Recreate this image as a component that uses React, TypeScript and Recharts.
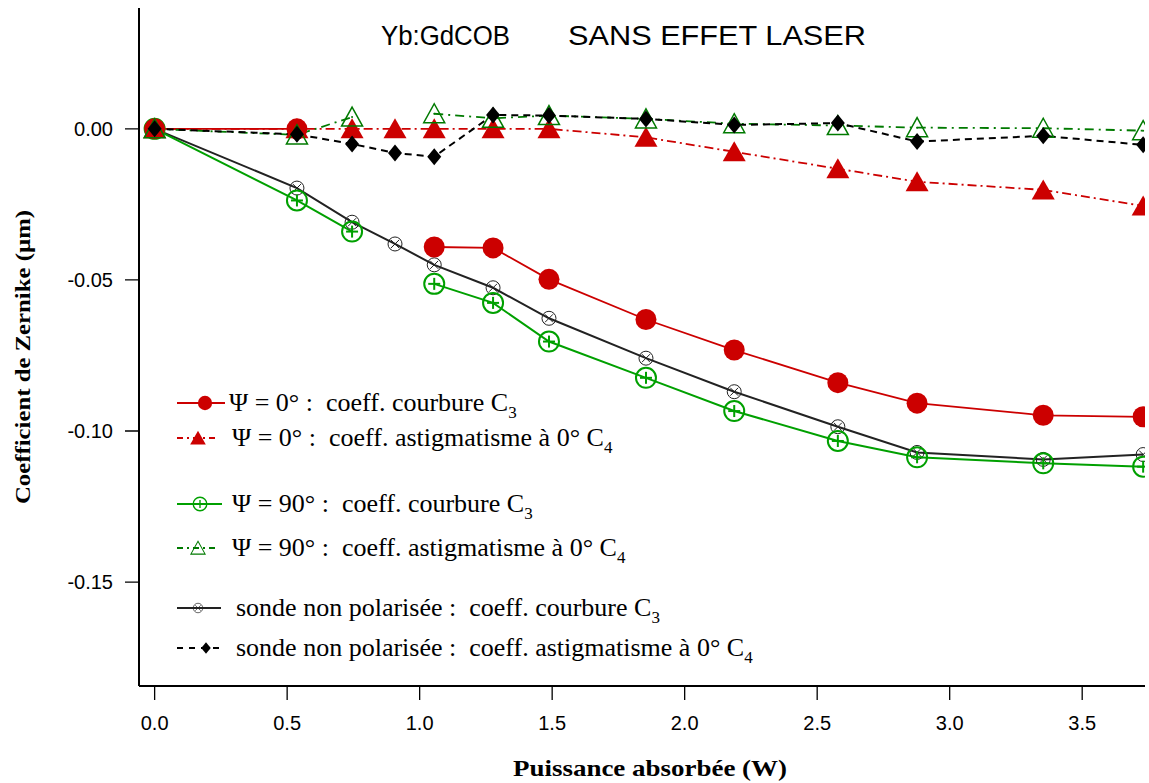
import React from 'react';
import { LineChart, Line, XAxis, YAxis } from 'recharts';

// ---------- data ----------
const powerW = [0, 0.537, 0.745, 0.907, 1.055, 1.277, 1.488, 1.854, 2.187, 2.578, 2.877, 3.353, 3.73];
const psi0Courbure = [0, 0, null, null, -0.0391, -0.0394, -0.0498, -0.0631, -0.0732, -0.084, -0.0908, -0.0948, -0.0953];
const psi0Astig = [0, 0, 0, 0, 0, 0, 0, -0.0028, -0.0076, -0.0132, -0.0175, -0.0202, -0.0255];
const psi90Courbure = [0, -0.0237, -0.034, null, -0.0513, -0.0576, -0.0704, -0.0824, -0.0934, -0.1033, -0.1087, -0.1107, -0.1118];
const psi90Astig = [0, -0.002, 0.0039, null, 0.005, 0.0035, 0.0044, 0.0033, 0.0017, 0.0011, 0.0004, 0.0002, -0.0006];
const nonPolCourbure = [0, -0.0196, -0.0309, -0.0381, -0.045, -0.0526, -0.0627, -0.0759, -0.087, -0.0986, -0.1071, -0.1094, -0.1078];
const nonPolAstig = [0, -0.0018, -0.005, -0.008, -0.0092, 0.0046, 0.0044, 0.0033, 0.0013, 0.0019, -0.0042, -0.0023, -0.0053];

const xTicks = [0, 0.5, 1.0, 1.5, 2.0, 2.5, 3.0, 3.5];
const yTicks = [0, -0.05, -0.1, -0.15];
const xDomain = [-0.059, 3.737];
const yDomain = [-0.1844, 0.04];

const titleLeft = 'Yb:GdCOB';
const titleRight = 'SANS EFFET LASER';
const xLabel = 'Puissance absorbée (W)';
const yLabel = 'Coefficient de Zernike (µm)';

const legendMain = [
  'Ψ = 0° :  coeff. courbure C',
  'Ψ = 0° :  coeff. astigmatisme à 0° C',
  'Ψ = 90° :  coeff. courbure C',
  'Ψ = 90° :  coeff. astigmatisme à 0° C',
  'sonde non polarisée :  coeff. courbure C',
  'sonde non polarisée :  coeff. astigmatisme à 0° C',
];
const legendSub = ['3', '4', '3', '4', '3', '4'];

const data = powerW.map((x, i) => ({
  x,
  rc3: psi0Courbure[i],
  rc4: psi0Astig[i],
  gc3: psi90Courbure[i],
  gc4: psi90Astig[i],
  bc3: nonPolCourbure[i],
  bc4: nonPolAstig[i],
}));

const RED = '#cc0000';
const GREEN = '#00a000';
const DKGREEN = '#007a00';
const BLACK = '#222222';

type Kind = 'circle' | 'tri' | 'circlePlus' | 'triOpen' | 'circleX' | 'diamond';

const Marker = ({ kind, cx, cy, s = 1 }: { kind: Kind; cx: number; cy: number; s?: number }) => {
  const t = `translate(${cx} ${cy}) scale(${s})`;
  switch (kind) {
    case 'circle':
      return <g transform={t}><circle r={10.5} fill={RED} /></g>;
    case 'tri':
      return <g transform={t}><polygon points="0,-10.5 11.5,9.5 -11.5,9.5" fill={RED} /></g>;
    case 'circlePlus':
      return (
        <g transform={t}>
          <circle r={10} fill="none" stroke={GREEN} strokeWidth={2} />
          <line x1={-6} y1={0} x2={6} y2={0} stroke={GREEN} strokeWidth={2} />
          <line x1={0} y1={-6} x2={0} y2={6} stroke={GREEN} strokeWidth={2} />
        </g>
      );
    case 'triOpen':
      return (
        <g transform={t}>
          <polygon points="0,-10 10.5,9 -10.5,9" fill="none" stroke={DKGREEN} strokeWidth={1.5} />
          <circle r={1} fill={DKGREEN} />
        </g>
      );
    case 'circleX':
      return (
        <g transform={t}>
          <circle r={7} fill="none" stroke={BLACK} strokeWidth={1} />
          <line x1={-4} y1={-4} x2={4} y2={4} stroke={BLACK} strokeWidth={1} />
          <line x1={-4} y1={4} x2={4} y2={-4} stroke={BLACK} strokeWidth={1} />
        </g>
      );
    case 'diamond':
    default:
      return <g transform={t}><polygon points="0,-8.5 7,0 0,8.5 -7,0" fill="#000" /></g>;
  }
};

const makeDot = (kind: Kind) => (props: any) => {
  const { cx, cy, index, value } = props;
  const key = `${kind}-${index}`;
  if (value == null || cx == null || cy == null || Number.isNaN(cy)) return <g key={key} />;
  return <g key={key}><Marker kind={kind} cx={cx} cy={cy} /></g>;
};

const series = [
  { key: 'bc3', color: BLACK, width: 2, dash: undefined, kind: 'circleX' as Kind },
  { key: 'gc3', color: GREEN, width: 2, dash: undefined, kind: 'circlePlus' as Kind },
  { key: 'rc3', color: RED, width: 1.8, dash: undefined, kind: 'circle' as Kind },
  { key: 'rc4', color: RED, width: 1.8, dash: '9 4 2 4', kind: 'tri' as Kind },
  { key: 'gc4', color: DKGREEN, width: 1.8, dash: '9 5 2 5', kind: 'triOpen' as Kind },
  { key: 'bc4', color: '#000', width: 2, dash: '7 5', kind: 'diamond' as Kind },
];

const legendRows = [
  { cy: 403, x1: 177, x2: 225, mx: 205, textX: 229, color: RED, dash: undefined, kind: 'circle' as Kind },
  { cy: 438, x1: 177, x2: 218, mx: 198, textX: 232, color: RED, dash: '6 4 2 4', kind: 'tri' as Kind },
  { cy: 504, x1: 177, x2: 222, mx: 200, textX: 232, color: GREEN, dash: undefined, kind: 'circlePlus' as Kind },
  { cy: 548, x1: 177, x2: 218, mx: 198, textX: 232, color: DKGREEN, dash: '6 4 2 4', kind: 'triOpen' as Kind },
  { cy: 608, x1: 177, x2: 221, mx: 198, textX: 236, color: BLACK, dash: undefined, kind: 'circleX' as Kind },
  { cy: 648, x1: 177, x2: 219, mx: 206, textX: 236, color: '#000', dash: '6 6', kind: 'diamond' as Kind },
];

const SERIF = '"Liberation Serif", "DejaVu Serif", serif';
const SANS = '"Liberation Sans", Arial, sans-serif';

const renderXLabel = (props: any) => {
  const vb = props.viewBox || { x: 139, y: 686, width: 1006, height: 97 };
  const cx = vb.x + vb.width / 2 + 8;
  const cy = vb.y + 90;
  return (
    <text
      x={cx}
      y={cy}
      textAnchor="middle"
      fontFamily={SERIF}
      fontWeight="bold"
      fontSize={24}
      textLength={274}
      lengthAdjust="spacingAndGlyphs"
      fill="#000"
    >
      {xLabel}
    </text>
  );
};

const renderYLabel = (props: any) => {
  const vb = props.viewBox || { x: 0, y: 8, width: 139, height: 678 };
  const cx = vb.x + 30;
  const cy = vb.y + vb.height / 2 + 10;
  return (
    <text
      x={cx}
      y={cy}
      transform={`rotate(-90 ${cx} ${cy})`}
      textAnchor="middle"
      fontFamily={SERIF}
      fontWeight="bold"
      fontSize={22}
      textLength={294}
      lengthAdjust="spacingAndGlyphs"
      fill="#000"
    >
      {yLabel}
    </text>
  );
};

export default function App() {
  return (
    <div style={{ position: 'absolute', left: 0, top: 0, width: 1149, height: 783, background: '#fff' }}>
      <LineChart width={1149} height={783} data={data} margin={{ top: 8, right: 4, bottom: 0, left: 0 }}>
        <XAxis
          dataKey="x"
          type="number"
          domain={xDomain}
          allowDataOverflow
          ticks={xTicks}
          tickFormatter={(v: number) => v.toFixed(1)}
          height={97}
          tickSize={17}
          tickMargin={13}
          axisLine={{ stroke: '#000', strokeWidth: 2 }}
          tickLine={{ stroke: '#000', strokeWidth: 1.3, strokeDasharray: '0 3 14 100' }}
          tick={{ fill: '#000', fontSize: 20, fontFamily: SANS }}
          label={renderXLabel}
        />
        <YAxis
          type="number"
          domain={yDomain}
          allowDataOverflow
          ticks={yTicks}
          tickFormatter={(v: number) => v.toFixed(2)}
          width={139}
          tickSize={17}
          tickMargin={9}
          axisLine={{ stroke: '#000', strokeWidth: 2 }}
          tickLine={{ stroke: '#000', strokeWidth: 1.3, strokeDasharray: '0 3 14 100' }}
          tick={{ fill: '#000', fontSize: 20, fontFamily: SANS }}
          label={renderYLabel}
        />
        {series.map((s) => (
          <Line
            key={s.key}
            dataKey={s.key}
            type="linear"
            stroke={s.color}
            strokeWidth={s.width}
            strokeDasharray={s.dash}
            dot={makeDot(s.kind)}
            activeDot={false}
            connectNulls={false}
            isAnimationActive={false}
          />
        ))}
      </LineChart>
      <svg
        width={1149}
        height={783}
        style={{ position: 'absolute', left: 0, top: 0, pointerEvents: 'none' }}
      >
        <text x={381} y={45} fontFamily={SANS} fontSize={27} textLength={129} lengthAdjust="spacingAndGlyphs" fill="#000">{titleLeft}</text>
        <text x={568} y={45} fontFamily={SANS} fontSize={27} textLength={298} lengthAdjust="spacingAndGlyphs" fill="#000">{titleRight}</text>
        {legendRows.map((r, i) => (
          <g key={i}>
            <line x1={r.x1} y1={r.cy} x2={r.x2} y2={r.cy} stroke={r.color} strokeWidth={1.8} strokeDasharray={r.dash} />
            <Marker kind={r.kind} cx={r.mx} cy={r.cy} s={0.68} />
            <text x={r.textX} y={r.cy + 8} fontFamily={SERIF} fontSize={26} fill="#000" style={{ whiteSpace: 'pre' }}>
              {legendMain[i]}
              <tspan dy={7} fontSize={17}>{legendSub[i]}</tspan>
            </text>
          </g>
        ))}
      </svg>
    </div>
  );
}
